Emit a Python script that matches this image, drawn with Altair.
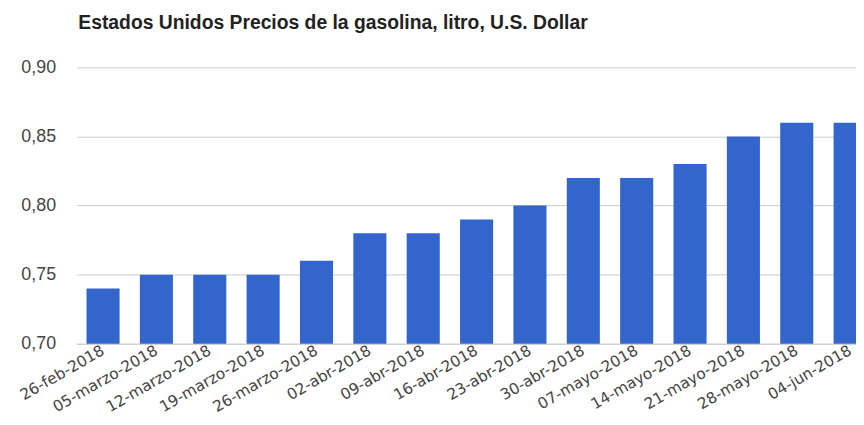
import altair as alt
import pandas as pd

dates = ["26-feb-2018", "05-marzo-2018", "12-marzo-2018", "19-marzo-2018", "26-marzo-2018",
         "02-abr-2018", "09-abr-2018", "16-abr-2018", "23-abr-2018", "30-abr-2018",
         "07-mayo-2018", "14-mayo-2018", "21-mayo-2018", "28-mayo-2018", "04-jun-2018"]
prices = [0.74, 0.75, 0.75, 0.75, 0.76, 0.78, 0.78, 0.79, 0.80, 0.82, 0.82, 0.83, 0.85, 0.86, 0.86]
y_ticks = [0.70, 0.75, 0.80, 0.85, 0.90]
y_base = 0.70

df = pd.DataFrame({"fecha": dates, "precio": prices})

chart = alt.Chart(df).mark_bar(color="#3366CC").encode(
    x=alt.X("fecha:N", sort=dates, title=None,
            scale=alt.Scale(range=[0, 808], paddingInner=0.38, paddingOuter=0.19),
            axis=alt.Axis(labelAngle=330, labelAlign="right", labelBaseline="middle",
                          labelPadding=5, ticks=False, domain=True, domainColor="#cccccc",
                          labelFont="DejaVu Sans", labelFontSize=15.5, labelColor="#444444",
                          labelOverlap=False, grid=False)),
    y=alt.Y("precio:Q", title=None,
            scale=alt.Scale(domain=[0.70, 0.90], zero=False, nice=False),
            axis=alt.Axis(values=y_ticks, labelExpr="replace(format(datum.value, '.2f'), '.', ',')",
                          ticks=False, domain=False, gridColor="#cccccc", labelPadding=21,
                          labelFont="Liberation Sans", labelFontSize=18, labelColor="#444444")),
    y2=alt.datum(y_base),
).properties(
    width=787, height=279,
    title=alt.TitleParams("Estados Unidos Precios de la gasolina, litro, U.S. Dollar",
                          anchor="start", frame="group", font="Liberation Sans", fontSize=19.5,
                          fontWeight="bold", color="#222222", offset=25, dx=2),
    autosize=alt.AutoSizeParams(type="none"),
    padding={"left": 69, "top": 58, "right": 0, "bottom": 72},
).configure_view(stroke=None)

chart.save("out.html", embed_options={"renderer": "svg", "actions": False})
